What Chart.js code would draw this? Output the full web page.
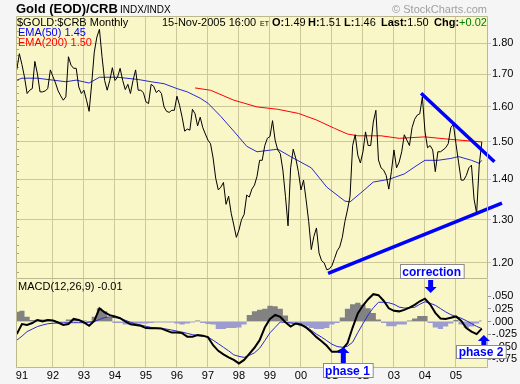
<!DOCTYPE html>
<html lang="en">
<head>
<meta charset="UTF-8" />
<title>Gold (EOD)/CRB</title>
<script src="https://cdn.jsdelivr.net/npm/chart.js"></script>
<style>
  html, body { margin: 0; padding: 0; background: #f5f5f5; }
  #wrap { position: relative; width: 520px; height: 384px; overflow: hidden; }
  canvas { position: absolute; left: 0; }
  #priceChart { top: 0; }
  #macdChart { top: 279px; }
</style>
</head>
<body>
<div id="wrap">
  <canvas id="priceChart" width="520" height="279"></canvas>
  <canvas id="macdChart" width="520" height="105"></canvas>
</div>
<script>
// months counted from Jan 1991 (0); first bar is Nov 1990
const startMonth = -2;
const prices = [
  1.713, 1.765,
  1.73, 1.69, 1.64, 1.65, 1.655, 1.74, 1.70, 1.645, 1.645, 1.648, 1.655, 1.713,
  1.692, 1.672, 1.648, 1.633, 1.62, 1.63, 1.755, 1.728, 1.718, 1.718, 1.66, 1.64,
  1.65, 1.62, 1.587, 1.67, 1.77, 1.82, 1.846, 1.755, 1.68, 1.65, 1.68, 1.72,
  1.68, 1.69, 1.718, 1.68, 1.652, 1.668, 1.64, 1.68, 1.713, 1.65, 1.65, 1.643,
  1.615, 1.61, 1.668, 1.662, 1.643, 1.65, 1.64, 1.60, 1.587, 1.584, 1.59, 1.59,
  1.632, 1.605, 1.57, 1.53, 1.536, 1.533, 1.593, 1.58, 1.545, 1.57, 1.54, 1.522,
  1.505, 1.495, 1.456, 1.403, 1.373, 1.38, 1.392, 1.337, 1.357, 1.315, 1.287, 1.258,
  1.275, 1.30, 1.312, 1.36, 1.355, 1.375, 1.385, 1.408, 1.45, 1.45, 1.49, 1.51,
  1.515, 1.56, 1.505, 1.478, 1.468, 1.424, 1.357, 1.285, 1.43, 1.48, 1.455, 1.42,
  1.373, 1.398, 1.348, 1.295, 1.23, 1.26, 1.28, 1.222, 1.205, 1.20, 1.185, 1.187,
  1.194, 1.21, 1.227, 1.236, 1.258, 1.295, 1.323, 1.357, 1.49, 1.52, 1.464, 1.443,
  1.473, 1.528, 1.49, 1.49, 1.556, 1.59, 1.451, 1.43, 1.424, 1.41, 1.375, 1.42,
  1.478, 1.43, 1.445, 1.473, 1.52, 1.505, 1.49, 1.54, 1.564, 1.576, 1.58, 1.63,
  1.53, 1.484, 1.49, 1.478, 1.42, 1.473, 1.473, 1.478, 1.484, 1.495, 1.54, 1.55,
  1.495, 1.445, 1.398, 1.398, 1.41, 1.43, 1.437, 1.35, 1.315, 1.437, 1.50
];
const ema50Months = [-2, 0, 6, 12, 17, 21, 26, 30, 37, 45, 50, 55, 60, 64, 69, 72, 77, 82, 87, 91,
  99, 104, 112, 118, 125, 127, 132, 136, 142, 148, 153, 156, 161, 166, 169, 174, 177, 178];
const ema50Values = [1.681, 1.687, 1.687, 1.681, 1.676, 1.681, 1.672, 1.69, 1.69, 1.683, 1.676, 1.67,
  1.655, 1.645, 1.626, 1.611, 1.572, 1.53, 1.488, 1.473, 1.48, 1.46, 1.43, 1.38, 1.345, 1.343,
  1.37, 1.393, 1.40, 1.414, 1.437, 1.45, 1.45, 1.455, 1.46, 1.45, 1.442, 1.45];
const ema200Months = [67, 73, 82, 91, 99, 107, 114, 121, 126, 130, 139, 146, 156, 166, 178];
const ema200Values = [1.657, 1.65, 1.62, 1.60, 1.593, 1.581, 1.562, 1.538, 1.522, 1.517, 1.517,
  1.51, 1.514, 1.507, 1.50];
const upperTrendMonths = [154.5, 182.9];
const upperTrendValues = [1.641, 1.446];
const lowerTrendMonths = [118.5, 185.8];
const lowerTrendValues = [1.177, 1.340];

// MACD panel, read every 2 months from startMonth
const macdStep = 2;
const macdValues = [
  -0.025, -0.005, -0.007, -0.003, 0.003, 0.000, 0.003, 0.002, -0.002, -0.007,
  -0.005, 0.005, 0.003, -0.002, -0.0085, 0.001, 0.026, 0.018, 0.0125, 0.010,
  0.0065, 0.000, -0.0055, -0.007, -0.0085, -0.013, -0.0135, -0.0135, -0.014, -0.018,
  -0.022, -0.022, -0.023, -0.030, -0.030, -0.027, -0.028, -0.031, -0.047, -0.058,
  -0.065, -0.071, -0.076, -0.083, -0.076, -0.064, -0.052, -0.037, -0.012, 0.005,
  0.013, 0.009, -0.0014, -0.010, -0.004, -0.006, -0.012, -0.021, -0.031, -0.039,
  -0.048, -0.060, -0.060, -0.055, -0.043, -0.012, 0.016, 0.0315, 0.044, 0.054,
  0.052, 0.041, 0.026, 0.021, 0.020, 0.023, 0.0275, 0.033, 0.040, 0.045,
  0.034, 0.017, 0.006, 0.005, 0.0075, 0.010, 0.0014, -0.013, -0.020, -0.025,
  -0.014
];
const signalValues = [
  -0.037, -0.029, -0.020, -0.015, -0.010, -0.007, -0.0045, -0.0035, -0.003, -0.0025,
  -0.0024, -0.0024, -0.0024, -0.0024, -0.001, 0.000, 0.004, 0.0077, 0.009, 0.0075,
  0.0063, 0.0024, -0.0016, -0.0045, -0.007, -0.0095, -0.0117, -0.013, -0.014, -0.015,
  -0.017, -0.019, -0.021, -0.0235, -0.026, -0.0275, -0.029, -0.031, -0.037, -0.044,
  -0.051, -0.058, -0.066, -0.069, -0.071, -0.067, -0.062, -0.053, -0.038, -0.0225,
  -0.0117, -0.001, -0.002, -0.003, -0.0045, -0.0077, -0.0105, -0.0175, -0.025, -0.031,
  -0.038, -0.045, -0.0495, -0.051, -0.049, -0.041, -0.022, -0.0044, 0.013, 0.027,
  0.038, 0.038, 0.037, 0.034, 0.0285, 0.0265, 0.027, 0.028, 0.034, 0.039,
  0.036, 0.032, 0.0255, 0.019, 0.0135, 0.0097, 0.0065, 0.0016, -0.004, -0.0097,
  -0.014
];
const histValues = [
  0.019, 0.021, 0.0095, 0.003, 0.004, 0.004, 0.004, 0.003, 0.001, 0.001,
  0.004, 0.004, 0.003, 0.002, -0.003, 0.0095, 0.026, 0.020, 0.008, -0.003,
  -0.003, -0.006, -0.006, -0.004, -0.004, -0.004, -0.003, -0.002, -0.002, -0.002,
  -0.002, -0.004, -0.006, -0.004, -0.002, 0.002, -0.003, -0.005, -0.006, -0.015,
  -0.015, -0.013, -0.013, -0.012, -0.006, 0.013, 0.020, 0.023, 0.025, 0.031,
  0.030, 0.025, 0.012, -0.003, -0.004, -0.0095, -0.0095, -0.013, -0.015, -0.015,
  -0.013, -0.006, -0.003, 0.008, 0.025, 0.034, 0.037, 0.033, 0.026, 0.017,
  0.004, -0.003, -0.0095, -0.0095, -0.006, -0.006, 0.002, 0.006, 0.011, 0.011,
  -0.003, -0.012, -0.015, -0.010, -0.004, 0.003, -0.006, -0.013, -0.010, -0.004,
  0.002
];

const yearMonths = [0, 12, 24, 36, 48, 60, 72, 84, 96, 108, 120, 132, 144, 156, 168];
const yearLabels = ['91', '92', '93', '94', '95', '96', '97', '98', '99', '00', '01', '02', '03', '04', '05'];
const priceTicks = [1.2, 1.3, 1.4, 1.5, 1.6, 1.7, 1.8];
const priceMinorTicks = [1.18, 1.20, 1.22, 1.24, 1.26, 1.28, 1.30, 1.32, 1.34, 1.36, 1.38, 1.40,
  1.42, 1.44, 1.46, 1.48, 1.50, 1.52, 1.54, 1.56, 1.58, 1.60, 1.62, 1.64, 1.66, 1.68, 1.70,
  1.72, 1.74, 1.76, 1.78, 1.80, 1.82, 1.84, 1.86, 1.88];
const macdTicks = [0.05, 0.025, 0, -0.025, -0.05, -0.075];
const lastBar = [1.49, 1.51, 1.46, 1.50]; // O H L Last
const lastChange = 0.02;

const FONT = '"Liberation Sans", Arial, sans-serif';
const GRID = '#cdc89a';
const PANEL = '#f9f7c8';
Chart.defaults.font.family = FONT;
Chart.defaults.font.size = 11;
Chart.defaults.color = '#000';

const xMin = -2.3, xMax = 180.4;
const pts = (xs, ys) => ys.map((v, i) => ({ x: xs[i], y: v }));
const series = (vals, step) => vals.map((v, i) => ({ x: startMonth + i * step, y: v }));

function txt(ctx, s, x, y, font, color, align) {
  ctx.font = font;
  ctx.fillStyle = color || '#000';
  ctx.textAlign = align || 'left';
  ctx.textBaseline = 'alphabetic';
  ctx.fillText(s, x, y);
  return ctx.measureText(s).width;
}

function noteBox(ctx, s, cx, top, h) {
  ctx.font = 'bold 12px ' + FONT;
  const w = ctx.measureText(s).width + 5;
  const l = Math.round(cx - w / 2) + 0.5;
  ctx.fillStyle = '#fff';
  ctx.fillRect(l, top + 0.5, w, h);
  ctx.strokeStyle = '#8a8a8a';
  ctx.lineWidth = 1;
  ctx.strokeRect(l, top + 0.5, w, h);
  txt(ctx, s, cx, top + h - 2.5, 'bold 12px ' + FONT, '#0000ff', 'center');
}

function arrow(ctx, x, yFrom, yTip) {
  const dir = Math.sign(yTip - yFrom), sw = 2.5, hw = 6;
  const yb = yTip - dir * 6;
  ctx.beginPath();
  ctx.moveTo(x - sw, yFrom); ctx.lineTo(x + sw, yFrom);
  ctx.lineTo(x + sw, yb); ctx.lineTo(x + hw, yb);
  ctx.lineTo(x, yTip); ctx.lineTo(x - hw, yb);
  ctx.lineTo(x - sw, yb); ctx.closePath();
  ctx.fillStyle = '#0000ff';
  ctx.fill();
}

const panel = {
  id: 'panel',
  beforeDraw(chart) {
    const { ctx, chartArea: a } = chart;
    ctx.save();
    ctx.fillStyle = PANEL;
    ctx.fillRect(a.left, a.top, a.right - a.left, a.bottom - a.top);
    ctx.restore();
  },
  afterDraw(chart) {
    const { ctx, chartArea: a } = chart;
    ctx.save();
    ctx.strokeStyle = '#bdb98f';
    ctx.lineWidth = 1;
    ctx.beginPath();
    ctx.moveTo(a.left + 0.5, a.top + 0.5);
    ctx.lineTo(a.left + 0.5, a.bottom - 0.5);
    ctx.lineTo(a.right - 0.5, a.bottom - 0.5);
    ctx.lineTo(a.right - 0.5, a.top + 0.5);
    if (chart.canvas.id === 'priceChart') ctx.lineTo(a.left + 0.5, a.top + 0.5);
    ctx.stroke();
    ctx.restore();
  }
};

const priceText = {
  id: 'priceText',
  afterDraw(chart) {
    const { ctx, chartArea: a, scales } = chart;
    ctx.save();
    txt(ctx, 'Gold (EOD)/CRB', 16, 13, 'bold 13px ' + FONT);
    txt(ctx, 'INDX/INDX', 120, 13, '10px ' + FONT);
    txt(ctx, '\u00a9 StockCharts.com', 487, 13, '11px ' + FONT, '#a0a0a0', 'right');
    txt(ctx, '$GOLD:$CRB Monthly', 17, 26, '11px ' + FONT);
    txt(ctx, '15-Nov-2005 16:00', 162, 26, '11px ' + FONT);
    txt(ctx, 'ET', 260, 26, '7px ' + FONT);
    const parts = [['O:', 272], ['H:', 308], ['L:', 344], ['Last:', 381]];
    parts.forEach(([lab, x], i) => {
      const w = txt(ctx, lab, x, 26, 'bold 11px ' + FONT);
      txt(ctx, lastBar[i].toFixed(2), x + w, 26, '11px ' + FONT);
    });
    const wc = txt(ctx, 'Chg:', 434, 26, 'bold 11px ' + FONT);
    txt(ctx, '+' + lastChange.toFixed(2), 434 + wc, 26, '11px ' + FONT, '#008000');
    txt(ctx, 'EMA(50) ' + ema50Values[ema50Values.length - 1].toFixed(2), 18, 36, '11px ' + FONT, '#0000ff');
    txt(ctx, 'EMA(200) ' + ema200Values[ema200Values.length - 1].toFixed(2), 18, 45.5, '11px ' + FONT, '#ff0000');
    noteBox(ctx, 'correction', scales.x.getPixelForValue(158.6), a.bottom - 15, 14);
    ctx.restore();
  }
};

const macdText = {
  id: 'macdText',
  afterDraw(chart) {
    const { ctx, chartArea: a, scales } = chart;
    const x = scales.x;
    ctx.save();
    txt(ctx, 'MACD(12,26,9) ' + macdValues[macdValues.length - 1].toFixed(2), 18, 10.5, '11px ' + FONT);
    arrow(ctx, x.getPixelForValue(158.2), a.top + 1, a.top + 14);
    arrow(ctx, x.getPixelForValue(124.4), a.bottom - 5, a.bottom - 21);
    noteBox(ctx, 'phase 1', x.getPixelForValue(126), a.bottom - 5, 14);
    arrow(ctx, x.getPixelForValue(178.8), a.bottom - 23, a.bottom - 33);
    noteBox(ctx, 'phase 2', x.getPixelForValue(177.7), a.bottom - 23, 13);
    ctx.restore();
  }
};

const yearGrid = ctx => (ctx.tick && ctx.tick.value === 0 ? 'rgba(0,0,0,0)' : GRID);
const setYearTicks = s => { s.ticks = yearMonths.map(v => ({ value: v })); };
const noPad = s => { s.paddingTop = 0; s.paddingBottom = 0; s.paddingLeft = 0; s.paddingRight = 0; };

new Chart(document.getElementById('priceChart'), {
  type: 'line',
  data: {
    datasets: [
      { data: pts(upperTrendMonths, upperTrendValues), borderColor: '#0000ff', borderWidth: 3.5, clip: false, order: 0 },
      { data: pts(lowerTrendMonths, lowerTrendValues), borderColor: '#0000ff', borderWidth: 3.5, clip: false, order: 0 },
      { data: series(prices, 1), borderColor: '#000', borderWidth: 1, order: 1 },
      { data: pts(ema50Months, ema50Values), borderColor: '#2a2ad0', borderWidth: 1, order: 2 },
      { data: pts(ema200Months, ema200Values), borderColor: '#ff0000', borderWidth: 1, order: 2 }
    ]
  },
  options: {
    responsive: false,
    animation: false,
    layout: { padding: { top: 16, left: 16, right: 0, bottom: 0 } },
    elements: { point: { radius: 0 }, line: { tension: 0 } },
    plugins: { legend: { display: false }, tooltip: { enabled: false } },
    scales: {
      x: {
        type: 'linear', min: xMin, max: xMax,
        afterBuildTicks: setYearTicks,
        afterFit: s => { s.height = 0; noPad(s); },
        ticks: { display: false },
        grid: { color: yearGrid, drawTicks: false },
        border: { display: false }
      },
      y: {
        type: 'logarithmic', position: 'right', min: 1.165, max: 1.892,
        afterBuildTicks: s => { s.ticks = priceTicks.map(v => ({ value: v })); },
        afterFit: s => { s.width = 32; noPad(s); },
        ticks: { autoSkip: false, padding: 1, callback: v => Number(v).toFixed(2) },
        grid: { color: GRID, tickLength: 3 },
        border: { display: false }
      },
      yMinor: {
        type: 'logarithmic', position: 'left', min: 1.165, max: 1.892,
        afterBuildTicks: s => { s.ticks = priceMinorTicks.map(v => ({ value: v })); },
        afterFit: s => { s.width = 0; noPad(s); },
        ticks: { display: false, autoSkip: false },
        grid: { drawOnChartArea: false, color: '#a8a480', tickLength: -3 },
        border: { display: false }
      }
    }
  },
  plugins: [panel, priceText]
});

new Chart(document.getElementById('macdChart'), {
  type: 'line',
  data: {
    datasets: [
      { data: series(macdValues, macdStep), borderColor: '#000', borderWidth: 2, order: 1 },
      { data: series(signalValues, macdStep), borderColor: '#2a2ad0', borderWidth: 1, order: 2 },
      {
        data: series(histValues, macdStep), borderColor: 'rgba(0,0,0,0)', borderWidth: 0,
        stepped: 'middle', fill: { target: 'origin', above: '#828282', below: '#9c9cd0' }, order: 3
      }
    ]
  },
  options: {
    responsive: false,
    animation: false,
    layout: { padding: { top: 0, left: 16, right: 0, bottom: 0 } },
    elements: { point: { radius: 0 }, line: { tension: 0 } },
    plugins: { legend: { display: false }, tooltip: { enabled: false } },
    scales: {
      x: {
        type: 'linear', min: xMin, max: xMax,
        afterBuildTicks: setYearTicks,
        afterFit: s => { s.height = 16; noPad(s); },
        ticks: { autoSkip: false, maxRotation: 0, padding: 1, callback: v => yearLabels[yearMonths.indexOf(v)] },
        grid: { color: yearGrid, drawTicks: false },
        border: { display: false }
      },
      y: {
        type: 'linear', position: 'right', min: -0.092, max: 0.084,
        afterBuildTicks: s => { s.ticks = macdTicks.map(v => ({ value: v })); },
        afterFit: s => { s.width = 32; noPad(s); },
        ticks: {
          autoSkip: false, padding: 1,
          callback: v => (v < -1e-9 ? '-' : '') + Math.abs(v).toFixed(3).replace(/^0/, '')
        },
        grid: { drawOnChartArea: false, color: '#9a9a9a', tickLength: 3 },
        border: { display: false }
      }
    }
  },
  plugins: [panel, macdText]
});
</script>
</body>
</html>
